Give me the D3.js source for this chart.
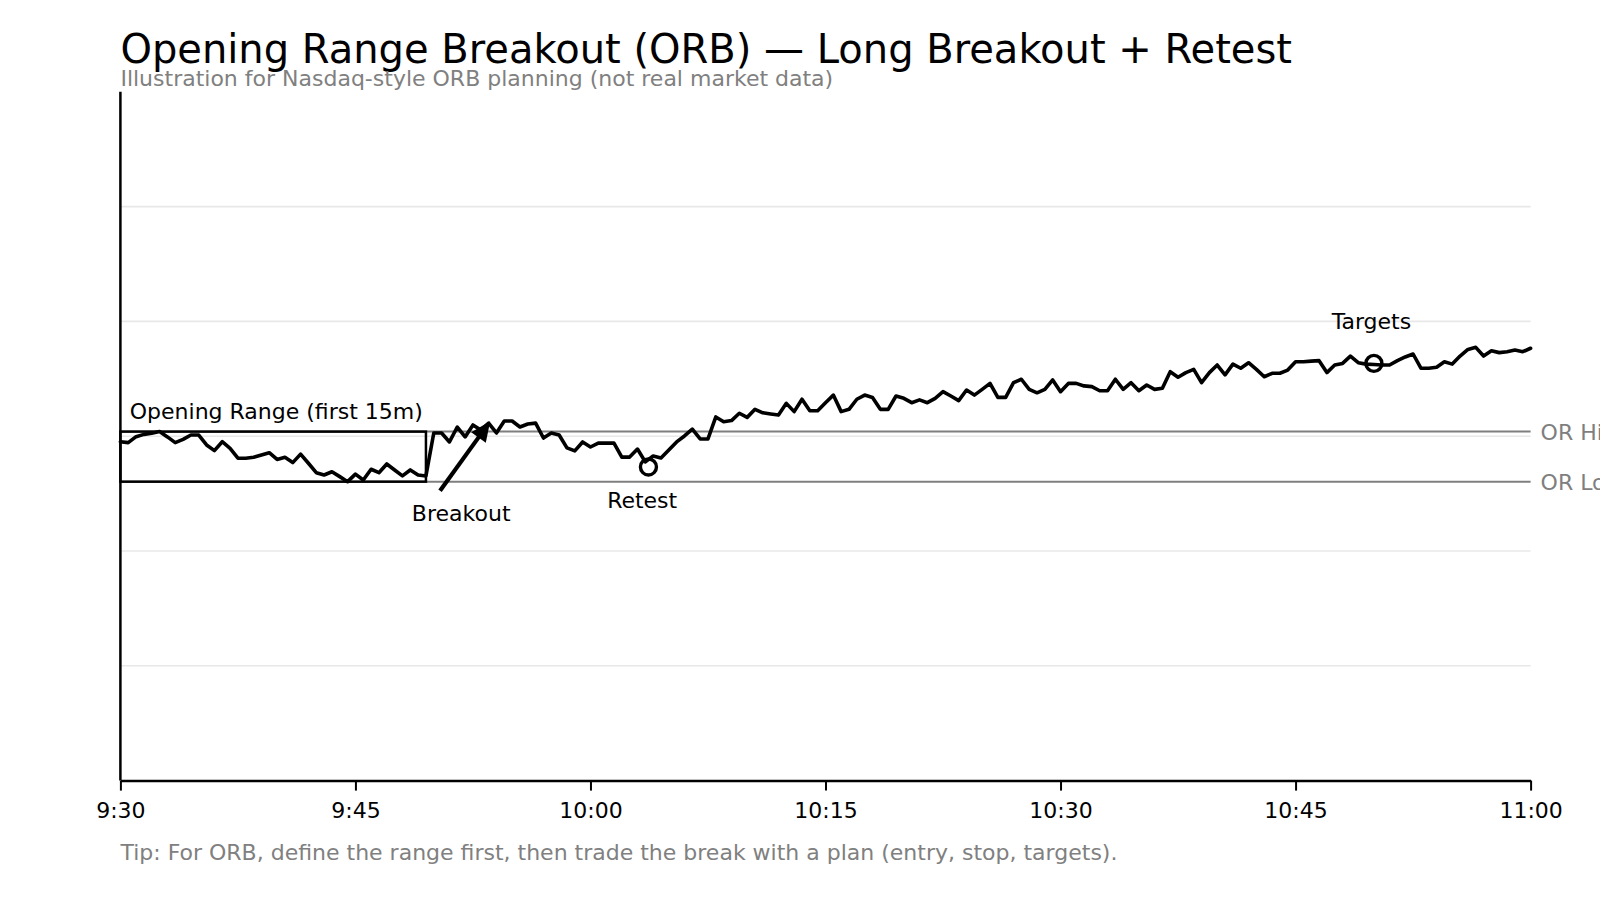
<!DOCTYPE html>
<html><head><meta charset="utf-8">
<script src="https://cdn.jsdelivr.net/npm/d3@7"></script>
<style>
body{margin:0;background:#fff;}
svg{display:block;font-family:"DejaVu Sans",sans-serif;}
</style>
</head><body>
<svg id="chart" width="1600" height="900"></svg>
<script>
// ---- data ----
const tickMinutes = [0, 15, 30, 45, 60, 75, 90];
const tickLabels = ["9:30", "9:45", "10:00", "10:15", "10:30", "10:45", "11:00"];
const gridPrices = [90, 95, 100, 105, 110];
const priceDomain = [85, 115];
const barMinutes = 0.5; // 30-second bars from 9:30
const prices = [
  99.76, 99.72, 99.98, 100.08, 100.13, 100.20, 99.97, 99.72, 99.86, 100.05,
  100.05, 99.62, 99.37, 99.76, 99.47, 99.04, 99.04, 99.08, 99.18, 99.28,
  98.99, 99.08, 98.85, 99.22, 98.82, 98.41, 98.31, 98.45, 98.24, 98.02,
  98.35, 98.09, 98.56, 98.41, 98.79, 98.53, 98.27, 98.53, 98.31, 98.27,
  100.14, 100.14, 99.75, 100.40, 99.97, 100.49, 100.27, 100.57, 100.14, 100.66,
  100.66, 100.40, 100.53, 100.57, 99.92, 100.14, 100.05, 99.49, 99.36, 99.75,
  99.53, 99.70, 99.70, 99.70, 99.09, 99.09, 99.44, 98.88, 99.14, 99.05,
  99.40, 99.75, 100.01, 100.31, 99.88, 99.88, 100.84, 100.63, 100.68, 101.00,
  100.82, 101.17, 101.02, 100.97, 100.92, 101.43, 101.07, 101.61, 101.11, 101.11,
  101.46, 101.79, 101.07, 101.17, 101.61, 101.79, 101.69, 101.17, 101.17, 101.75,
  101.65, 101.46, 101.58, 101.46, 101.65, 101.94, 101.75, 101.55, 102.01, 101.79,
  102.04, 102.30, 101.69, 101.69, 102.33, 102.48, 102.04, 101.89, 102.04, 102.45,
  101.94, 102.30, 102.30, 102.19, 102.16, 101.98, 101.98, 102.48, 102.04, 102.33,
  101.98, 102.23, 102.04, 102.09, 102.81, 102.57, 102.77, 102.91, 102.33, 102.77,
  103.10, 102.67, 103.14, 102.96, 103.20, 102.91, 102.59, 102.74, 102.74, 102.88,
  103.24, 103.24, 103.27, 103.29, 102.77, 103.10, 103.17, 103.49, 103.20, 103.14,
  103.12, 103.10, 103.10, 103.29, 103.45, 103.58, 102.96, 102.96, 103.00, 103.24,
  103.14, 103.49, 103.78, 103.87, 103.49, 103.72, 103.64, 103.68, 103.75, 103.68,
  103.83
];
const orHigh = 100.20;
const orLow = 98.02;
const orBoxMinutes = [0, 19.5];
const markerMinutes = [33.7, 80];
const markerPrices = [98.66, 103.17];
const labelTexts = ["Opening Range (first 15m)", "Breakout", "Retest", "Targets"];
const labelMinutes = [0.6, 21.75, 33.3, 79.84];
const labelPrices = [100.74, 96.31, 96.86, 104.66];
const labelAnchors = ["start", "middle", "middle", "middle"];
const arrowFrom = [20.4, 97.62];
const arrowTo = [23.6, 100.65];
const levelNames = ["OR High", "OR Low"];
const levelValues = [orHigh, orLow];

// ---- layout ----
const L = 120.4, R = 1530.6, T = 91.8, B = 780.6;
const svg = d3.select("#chart");
const x = d3.scaleLinear().domain([0, 90]).range([L, R]);
const y = d3.scaleLinear().domain(priceDomain).range([B, T]);

// title
svg.append("text").attr("x", L).attr("y", 63).attr("font-size", 40).attr("fill", "#000")
  .text("Opening Range Breakout (ORB) — Long Breakout + Retest");
svg.append("text").attr("x", L).attr("y", 85.5).attr("font-size", 22).attr("fill", "#808080")
  .text("Illustration for Nasdaq-style ORB planning (not real market data)");

// grid
svg.append("g").selectAll("line").data(gridPrices).join("line")
  .attr("x1", L).attr("x2", R).attr("y1", d => y(d)).attr("y2", d => y(d))
  .attr("stroke", "#e8e8e8").attr("stroke-width", 1.6);

// OR levels
svg.append("g").selectAll("line").data(levelValues).join("line")
  .attr("x1", L).attr("x2", R).attr("y1", d => y(d)).attr("y2", d => y(d))
  .attr("stroke", "#7f7f7f").attr("stroke-width", 2);
svg.append("g").selectAll("text").data(levelNames).join("text")
  .attr("x", R + 10).attr("y", (d, i) => y(levelValues[i])).attr("dy", "0.36em")
  .attr("font-size", 22).attr("fill", "#7f7f7f").text(d => d);

// OR box
svg.append("rect")
  .attr("x", x(orBoxMinutes[0])).attr("y", y(orHigh))
  .attr("width", x(orBoxMinutes[1]) - x(orBoxMinutes[0]))
  .attr("height", y(orLow) - y(orHigh))
  .attr("fill", "none").attr("stroke", "#000").attr("stroke-width", 2.5);

// price line
const line = d3.line().x((d, i) => x(i * barMinutes)).y(d => y(d));
svg.append("path").datum(prices).attr("d", line)
  .attr("fill", "none").attr("stroke", "#000").attr("stroke-width", 3.6)
  .attr("stroke-linejoin", "round").attr("stroke-linecap", "round");

// markers
svg.append("g").selectAll("circle").data(markerMinutes).join("circle")
  .attr("cx", d => x(d)).attr("cy", (d, i) => y(markerPrices[i])).attr("r", 8)
  .attr("fill", "none").attr("stroke", "#000").attr("stroke-width", 3.4);

// labels
svg.append("g").selectAll("text").data(labelTexts).join("text")
  .attr("x", (d, i) => x(labelMinutes[i])).attr("y", (d, i) => y(labelPrices[i]))
  .attr("text-anchor", (d, i) => labelAnchors[i])
  .attr("font-size", 22).attr("fill", "#000").text(d => d);

// arrow
{
  const x0 = x(arrowFrom[0]), y0 = y(arrowFrom[1]);
  const x1 = x(arrowTo[0]), y1 = y(arrowTo[1]);
  const ang = Math.atan2(y1 - y0, x1 - x0);
  const hl = 20, hw = 9;
  const bx = x1 - hl * Math.cos(ang), by = y1 - hl * Math.sin(ang);
  svg.append("line").attr("x1", x0).attr("y1", y0).attr("x2", bx + 2 * Math.cos(ang)).attr("y2", by + 2 * Math.sin(ang))
    .attr("stroke", "#000").attr("stroke-width", 4.2);
  const px = -Math.sin(ang), py = Math.cos(ang);
  svg.append("path")
    .attr("d", `M${x1},${y1}L${bx + hw * px},${by + hw * py}L${bx - hw * px},${by - hw * py}Z`)
    .attr("fill", "#000");
}

// axes
const xAxis = d3.axisBottom(x).tickValues(tickMinutes)
  .tickFormat((d, i) => tickLabels[i]).tickSize(10).tickSizeOuter(0).tickPadding(12);
const gx = svg.append("g").attr("transform", `translate(0,${B})`).call(xAxis);
gx.select(".domain").attr("stroke", "#000").attr("stroke-width", 2.5);
gx.selectAll(".tick line").attr("stroke", "#000").attr("stroke-width", 2);
gx.selectAll(".tick text").attr("font-size", 22).attr("font-family", "DejaVu Sans").attr("fill", "#000");

svg.append("line").attr("x1", L).attr("x2", L).attr("y1", T).attr("y2", B)
  .attr("stroke", "#000").attr("stroke-width", 2.5);

// footer tip
svg.append("text").attr("x", L).attr("y", 860).attr("font-size", 22).attr("fill", "#808080")
  .text("Tip: For ORB, define the range first, then trade the break with a plan (entry, stop, targets).");
</script>
</body></html>
